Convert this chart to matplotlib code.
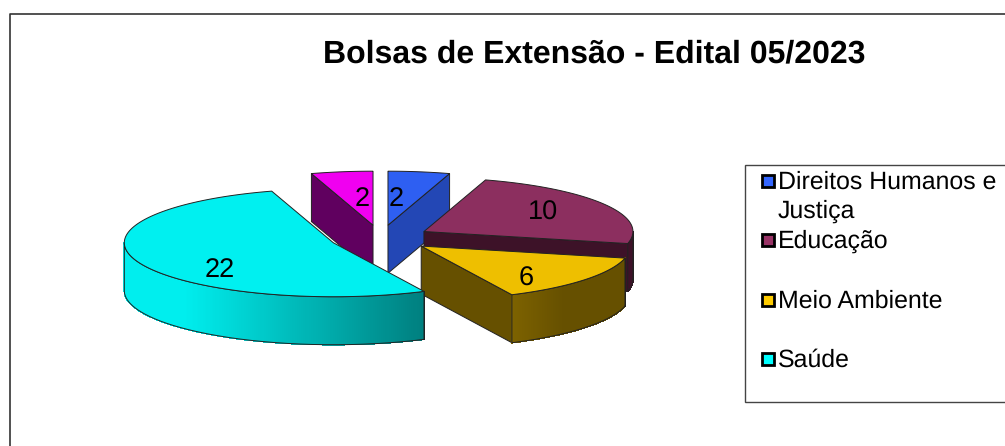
import numpy as np
import matplotlib
matplotlib.use("Agg")
import matplotlib.pyplot as plt
from matplotlib.colors import to_rgb
from matplotlib.patches import Rectangle

plt.rcParams['font.family'] = ['Liberation Sans', 'DejaVu Sans']
plt.rcParams['text.hinting'] = 'no_hinting'

title = "Bolsas de Extensão - Edital 05/2023"
# slices clockwise from 12 o'clock, the last 2 has no legend entry in the original
slice_values = [2, 10, 6, 22, 2]
top_colors = ['#2e5ff2', '#8c2f5f', '#eebf00', '#00f0f0', '#f000f0']
cut_colors = ['#2347b5', '#3d1228', '#665000', '#008080', '#60005f']
rim_left = ['#2347b5', '#3d1228', '#7d6200', '#00eeee', '#60005f']
rim_right = ['#2347b5', '#3d1228', '#665000', '#007f7f', '#60005f']
label_pos = [(396, 199), (543, 213), (526, 279), (220, 270), (362, 199)]
draw_order = [4, 0, 1, 2, 3]
# small nudges in pixels, the slices of the original do not sit exactly on one explode
nudge = [(0, 0), (0, 0), (1.5, 0), (-0.5, 0), (0, 0)]

legend_labels = ["Direitos Humanos e\nJustiça", "Educação", "Meio Ambiente", "Saúde"]
legend_colors = ['#3366ff', '#993366', '#ffcc00', '#00ffff']
legend_y = [181, 240, 300, 359]

# pie geometry in pixels
cx, cy = 380.5, 238
rx, ry = 209, 54
explode = 0.24
depth = 48
edge = '#222222'

fig = plt.figure(figsize=(10.05, 4.46), dpi=100)
ax = fig.add_axes([0, 0, 1, 1])
ax.set_xlim(0, 1005)
ax.set_ylim(446, 0)
ax.axis('off')

# outer chart frame, right and bottom sides are cropped off
ax.plot([9.5, 9.5, 1005], [446, 13.5, 13.5], color='#333333', lw=1.2)
ax.text(594, 54, title, fontsize=23, fontweight='bold', ha='center', va='center')


def point(ox, oy, t):
    return ox + rx*np.sin(t), oy - ry*np.cos(t)


angles = np.cumsum([0] + slice_values) / sum(slice_values) * 2*np.pi

for z, i in enumerate(draw_order):
    t0, t1 = angles[i], angles[i+1]
    mid = (t0 + t1) / 2
    ox, oy = point(cx, cy, mid)
    ox = cx + (ox - cx)*explode + nudge[i][0]
    oy = cy + (oy - cy)*explode + nudge[i][1]

    # cut faces that look towards the viewer
    for t, visible in [(t0, np.sin(t0) < 0), (t1, np.sin(t1) > 0)]:
        if visible:
            x, y = point(ox, oy, t)
            ax.fill([ox, x, x, ox], [oy, y, y+depth, oy+depth],
                    facecolor=cut_colors[i], edgecolor=edge, lw=0.7, zorder=z*3+1)

    # front rim, split in strips for the shading
    a = max(t0, np.pi/2)
    b = min(t1, 3*np.pi/2)
    if a < b:
        ts = np.linspace(a, b, 200)
        xs, ys = point(ox, oy, ts)
        x_lo, x_hi = xs.min(), xs.max()
        for k in range(len(ts)-1):
            f = (xs[k] - x_lo) / max(x_hi - x_lo, 1)
            if i == 3:
                f = max(0, (f - 0.2) / 0.8)
            elif i == 2:
                f = min(1, f / 0.45)
            col = np.array(to_rgb(rim_left[i]))*(1-f) + np.array(to_rgb(rim_right[i]))*f
            ax.fill([xs[k], xs[k+1], xs[k+1], xs[k]],
                    [ys[k], ys[k+1], ys[k+1]+depth, ys[k]+depth],
                    facecolor=col, edgecolor=col, lw=0.5, antialiased=False, zorder=z*3+2)
        ax.plot(np.r_[xs, xs[::-1], xs[0]], np.r_[ys+depth, ys[::-1], ys[0]+depth],
                color=edge, lw=0.7, zorder=z*3+2)
        ax.plot([xs[0], xs[0]], [ys[0], ys[0]+depth], color=edge, lw=0.7, zorder=z*3+2)

    # top
    ts = np.linspace(t0, t1, 120)
    xs, ys = point(ox, oy, ts)
    ax.fill(np.r_[ox, xs], np.r_[oy, ys], facecolor=top_colors[i],
            edgecolor=edge, lw=0.7, zorder=z*3+3)

for v, (lx, ly) in zip(slice_values, label_pos):
    ax.text(lx, ly, str(v), fontsize=19.5, ha='center', va='center', zorder=30)

# legend
ax.add_patch(Rectangle((744.5, 165), 300, 236.5, facecolor='white', edgecolor='#444444', lw=1.0, zorder=31))
for lab, col, y in zip(legend_labels, legend_colors, legend_y):
    ax.add_patch(Rectangle((761.5, y-6), 12, 12, facecolor=col, edgecolor='black', lw=2, zorder=32))
    ax.text(778, y-10, lab, fontsize=17.9, ha='left', va='top', linespacing=1.27, zorder=32)

fig.savefig('out.png', dpi=100)
